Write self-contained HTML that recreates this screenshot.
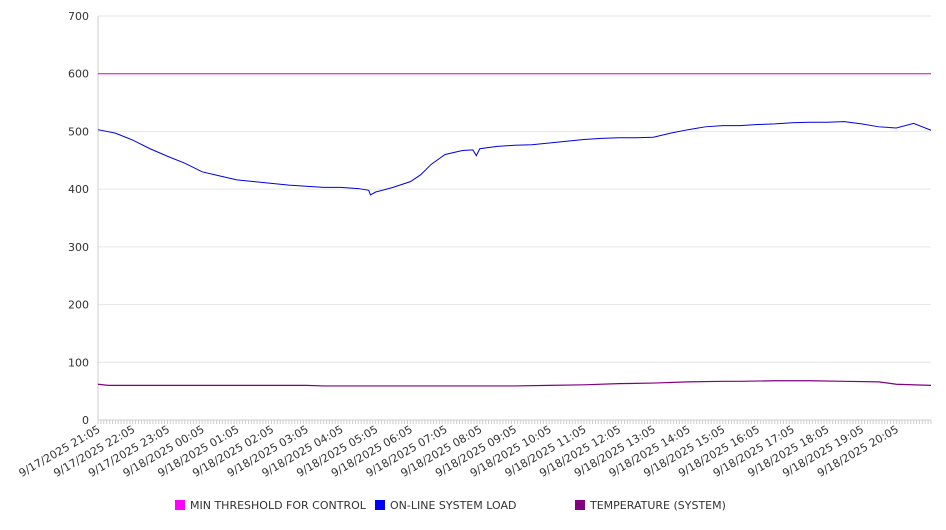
<!DOCTYPE html>
<html><head><meta charset="utf-8"><style>
body{margin:0;background:#fff;width:946px;height:526px;overflow:hidden;font-family:"DejaVu Sans","Liberation Sans",sans-serif;}
</style></head><body>
<svg id="chart" width="946" height="526" xmlns="http://www.w3.org/2000/svg" font-family="DejaVu Sans, Liberation Sans, sans-serif"></svg>
<script>
const yTicks=[0,100,200,300,400,500,600,700];
const xLabels=["9/17/2025 21:05","9/17/2025 22:05","9/17/2025 23:05","9/18/2025 00:05","9/18/2025 01:05","9/18/2025 02:05","9/18/2025 03:05","9/18/2025 04:05","9/18/2025 05:05","9/18/2025 06:05","9/18/2025 07:05","9/18/2025 08:05","9/18/2025 09:05","9/18/2025 10:05","9/18/2025 11:05","9/18/2025 12:05","9/18/2025 13:05","9/18/2025 14:05","9/18/2025 15:05","9/18/2025 16:05","9/18/2025 17:05","9/18/2025 18:05","9/18/2025 19:05","9/18/2025 20:05"];
const thresholdValue=600;
const loadHours=[0,0.5,1,1.5,2,2.5,3,3.5,4,4.5,5,5.5,6,6.5,7,7.5,7.8,7.85,8,8.5,9,9.3,9.6,10,10.5,10.8,10.9,11,11.5,12,12.5,13,13.5,14,14.5,15,15.5,16,16.5,17,17.5,18,18.5,19,19.5,20,20.5,21,21.5,22,22.5,23,23.5,24];
const loadValues=[503,497,485,470,457,445,430,423,416,413,410,407,405,403,403,401,398,390,395,403,413,425,443,460,467,468,458,470,474,476,477,480,483,486,488,489,489,490,497,503,508,510,510,512,513,515,516,516,517,513,508,506,514,502];
const tempHours=[0,0.3,6,6.5,12,13,14,15,16,17,18,18.5,19.5,20.5,21.5,22.5,23,24];
const tempValues=[62,60,60,59,59,60,61,63,64,66,67,67,68,68,67,66,62,60];
const svg=document.getElementById('chart');
const NS='http://www.w3.org/2000/svg';
const X0=98,X1=931,Y0=420,Y1=16;
const xs=h=>X0+(X1-X0)*h/24;
const ys=v=>Y0-(Y0-Y1)*v/700;
function mk(t,a){const e=document.createElementNS(NS,t);for(const k in a)e.setAttribute(k,a[k]);svg.appendChild(e);return e;}
yTicks.forEach(v=>{
 const g=mk('line',{x1:X0,x2:X1,y1:ys(v),y2:ys(v),stroke:'#e6e6e6','stroke-width':1});
 
 
 const t=mk('text',{x:89,y:ys(v)+4,'text-anchor':'end','font-size':11,fill:'#333'});
 t.textContent=v;
 
 
});
const ax=mk('line',{x1:X0,x2:X0,y1:Y1,y2:Y0,stroke:'#ccc'});


const bx=mk('line',{x1:X0,x2:X1,y1:Y0,y2:Y0,stroke:'#ccc'});


for(let i=0;i<=24*12;i++){const x=xs(i/12);const tk=mk('line',{x1:x,x2:x,y1:Y0,y2:Y0+4,stroke:'#ccc'});
 
 }
xLabels.forEach((l,i)=>{const x=xs(i)+1,y=Y0+8;
 const t=mk('text',{x:x,y:y+4,'text-anchor':'end','font-size':11,fill:'#333',transform:`rotate(-30 ${x} ${y})`});
 t.textContent=l;
 
 });
const th=mk('line',{x1:X0,x2:X1,y1:ys(thresholdValue),y2:ys(thresholdValue),stroke:'#e000e0','stroke-width':1});


const lp=mk('polyline',{points:loadHours.map((h,i)=>xs(h)+','+ys(loadValues[i])).join(' '),fill:'none',stroke:'#0000dd','stroke-width':1});


const tp=mk('polyline',{points:tempHours.map((h,i)=>xs(h)+','+ys(tempValues[i])).join(' '),fill:'none',stroke:'#800080','stroke-width':1.2});


[[175,'#ff00ff','MIN THRESHOLD FOR CONTROL','legend-min-threshold'],[375,'#0000ff','ON-LINE SYSTEM LOAD','legend-system-load'],[575,'#800080','TEMPERATURE (SYSTEM)','legend-temperature']].forEach(([x,c,l,n])=>{
 const r=mk('rect',{x:x,y:500,width:10,height:10,fill:c});
 
 
 const t=mk('text',{x:x+15,y:509,'font-size':11,fill:'#333'});
 t.textContent=l;
 
 
});
</script>
</body></html>
